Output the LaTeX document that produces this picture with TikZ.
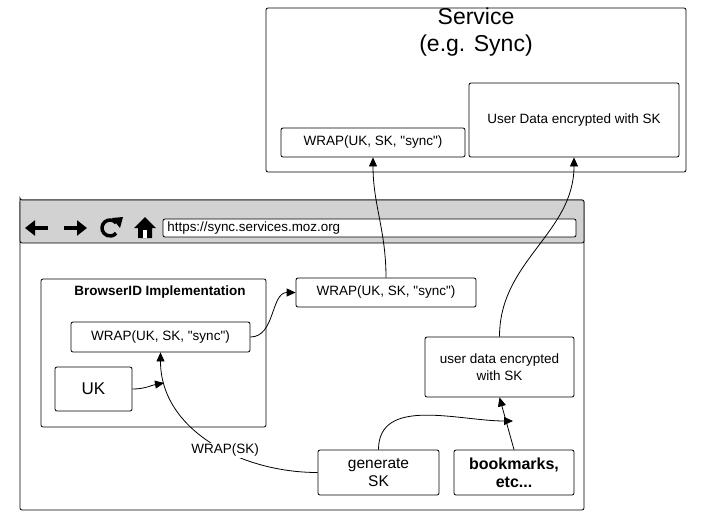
\documentclass[tikz,border=0pt]{standalone}
\usepackage{fontspec}
\setmainfont{Liberation Sans}
\usetikzlibrary{arrows.meta, positioning}

\begin{document}
\begin{tikzpicture}[%
    x=1pt, y=-1pt,
    >={Triangle[length=9pt, width=8pt]},
    thick,
    box/.style={draw, rounded corners=2pt, fill=white, font=\fontsize{13.5}{17}\selectfont, align=center, inner sep=0pt},
    icon/.style={line width=3.5pt}
  ]
  \useasboundingbox (0,0) rectangle (714,528);

  % service side
  \draw[rounded corners=2pt] (266,8) rectangle (686,172);
  \node[font=\fontsize{23}{27}\selectfont, align=center] (svc) at (476,32) {Service\\(e.g. Sync)};
  \node[box, minimum width=184pt, minimum height=29pt] (swrap) at (373,142.5) {WRAP(UK, SK, \textquotedbl sync\textquotedbl)};
  \node[box, minimum width=210pt, minimum height=74pt] (sdata) at (574,120) {User Data encrypted with SK};

  % browser window
  \draw[rounded corners=2pt] (20,200) rectangle (584,510);
  \draw[rounded corners=2pt, fill=gray!35] (20,200) |- (584,243) |- cycle;
  \draw[rounded corners=2pt, fill=white] (163,219) rectangle (576,237);
  \node[anchor=west, font=\fontsize{13.4}{15}\selectfont, inner sep=2pt] (url) at (165,228) {https://sync.services.moz.org};
  \draw[icon, -{Triangle[length=10pt, width=15pt]}] (48,228) -- (25,228);
  \draw[icon, -{Triangle[length=10pt, width=15pt]}] (64,228) -- (87,228);
  \draw[icon] (110,228) ++(-40:8) arc (-40:-320:8);
  \fill (112,218) -- (123,217) -- (120,228) -- cycle;
  \fill (145,217) -- (156,228) -- (152,228) -- (152,238) -- (138,238) -- (138,228) -- (134,228) -- cycle;
  \fill[white] (143,230) rectangle (147,238);

  % BrowserID implementation
  \draw[rounded corners=2pt] (41,279) rectangle (266,427);
  \node[font=\bfseries\fontsize{13.5}{16}\selectfont] (bid) at (160,292) {BrowserID Implementation};
  \node[box, minimum width=179pt, minimum height=30pt] (iwrap) at (160.5,337) {WRAP(UK, SK, \textquotedbl sync\textquotedbl)};
  \node[box, minimum width=77pt, minimum height=44pt, font=\fontsize{17}{20}\selectfont] (uk) at (93.5,389) {UK};
  \coordinate (ukin) at (164,383);

  % browser content
  \node[box, minimum width=180pt, minimum height=29pt] (mwrap) at (386,292.5) {WRAP(UK, SK, \textquotedbl sync\textquotedbl)};
  \node[box, minimum width=149pt, minimum height=60pt] (udata) at (499.5,367) {user data encrypted\\with SK};
  \node[box, minimum width=121pt, minimum height=45pt, font=\fontsize{15.5}{18}\selectfont] (gen) at (378.5,472.5) {generate\\SK};
  \node[box, minimum width=120pt, minimum height=45pt, font=\bfseries\fontsize{16}{18}\selectfont] (bm) at (514,472.5) {bookmarks,\\etc...};
  \coordinate (bmin) at (513,421);

  \path[->]
    (mwrap.north) edge [out=90, in=-90] (swrap.south)
    (udata.north) edge [out=90, in=-90] (sdata.south)
    (iwrap.east) edge [out=0, in=180] (mwrap.west)
    (uk.east) edge [out=0, in=190] (ukin)
    (gen.west) edge [out=180, in=-90] node[pos=0.42, fill=white, inner sep=1pt, font=\fontsize{13.5}{16}\selectfont] {WRAP(SK)} (iwrap.south)
    (gen.north) edge [out=90, in=180] (bmin)
    (bm.north) edge (udata.south);
\end{tikzpicture}
\end{document}
